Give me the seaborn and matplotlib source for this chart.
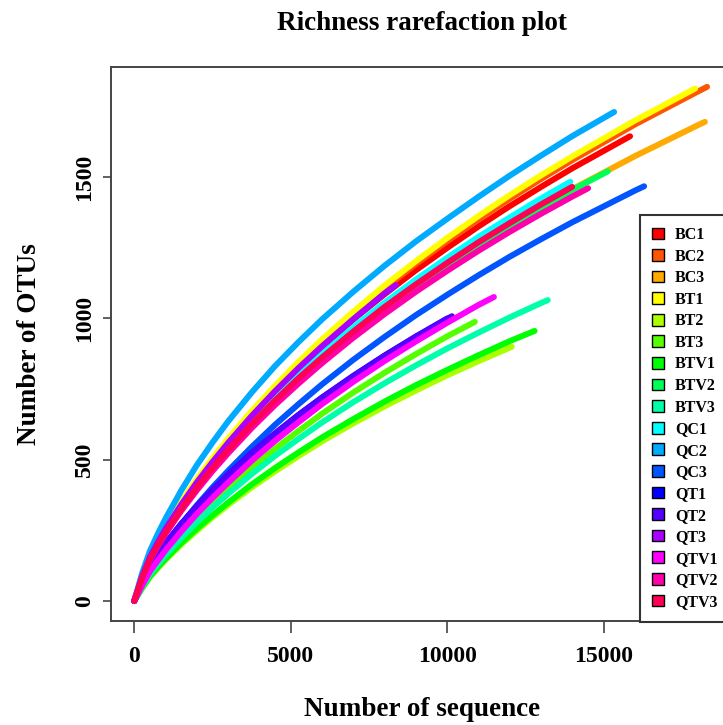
import matplotlib
matplotlib.use("Agg")
import matplotlib.pyplot as plt
import seaborn as sns
import pandas as pd
from matplotlib.patches import Patch

sns.set_style("white")
plt.rcParams["font.family"] = ["Liberation Serif", "DejaVu Serif"]
plt.rcParams["font.weight"] = "bold"
plt.rcParams["text.color"] = "black"
plt.rcParams["axes.labelcolor"] = "black"
plt.rcParams["xtick.color"] = "black"
plt.rcParams["ytick.color"] = "black"

# ---------------- data ----------------
samples = ["BC1", "BC2", "BC3", "BT1", "BT2", "BT3", "BTV1", "BTV2", "BTV3",
           "QC1", "QC2", "QC3", "QT1", "QT2", "QT3", "QTV1", "QTV2", "QTV3"]
colors = ["#FF0000", "#FF5500", "#FFAA00", "#FFFF00", "#AAFF00", "#55FF00",
          "#00FF00", "#00FF55", "#00FFAA", "#00FFFF", "#00AAFF", "#0055FF",
          "#0000FF", "#5500FF", "#AA00FF", "#FF00FF", "#FF00AA", "#FF0055"]

# sampling depths at which the curves were read
grid = [0, 250, 500, 750, 1000, 1500, 2000, 2500, 3000, 3750, 4500, 5250,
        6000, 7000, 8000, 9000, 10000, 11000, 12000, 13000, 14000, 16000, 18000]
# final sequencing depth of each sample
ends_x = [15840, 18300, 18230, 17920, 12060, 10880, 12790, 15130, 13210,
          13930, 15330, 16290, 10000, 10150, 8360, 11490, 14500, 13990]

BC1 = [0, 86, 155, 207, 254, 341, 419, 492, 559, 654, 742, 824, 900, 997, 1086,
       1171, 1250, 1326, 1398, 1466, 1532, 1645]
BC2 = [0, 87, 158, 211, 259, 347, 427, 501, 570, 667, 756, 839, 918, 1016, 1107,
       1193, 1274, 1351, 1424, 1494, 1561, 1687, 1803, 1820]
BC3 = [0, 81, 147, 197, 242, 324, 399, 468, 532, 622, 706, 784, 857, 949, 1034,
       1114, 1190, 1262, 1330, 1395, 1458, 1575, 1684, 1696]
BT1 = [0, 87, 159, 213, 262, 350, 431, 505, 575, 672, 762, 847, 926, 1024, 1117,
       1203, 1285, 1363, 1437, 1507, 1574, 1701, 1814]
BT2 = [0, 45, 85, 116, 146, 200, 249, 296, 340, 402, 459, 513, 565, 629, 689,
       745, 799, 849, 897, 900]
BT3 = [0, 52, 99, 136, 171, 234, 293, 347, 399, 471, 539, 602, 663, 738, 808,
       874, 937, 988]
BTV1 = [0, 46, 87, 119, 149, 205, 256, 303, 348, 412, 471, 526, 579, 644, 706,
        764, 818, 870, 920, 956]
BTV2 = [0, 81, 147, 196, 242, 324, 398, 467, 531, 621, 704, 782, 855, 947, 1032,
        1112, 1188, 1259, 1328, 1393, 1455, 1521]
BTV3 = [0, 50, 95, 130, 163, 223, 279, 331, 380, 449, 514, 574, 632, 704, 771,
        834, 894, 950, 1004, 1055, 1065]
QC1 = [0, 83, 150, 201, 247, 331, 408, 478, 544, 636, 721, 800, 875, 969, 1056,
       1138, 1215, 1289, 1358, 1425, 1484]
QC2 = [0, 98, 177, 237, 292, 391, 481, 561, 636, 738, 832, 917, 997, 1095, 1187,
       1273, 1353, 1431, 1506, 1577, 1646, 1731]
QC3 = [0, 60, 115, 158, 198, 271, 339, 402, 461, 545, 624, 697, 767, 854, 935,
       1012, 1084, 1153, 1219, 1281, 1341, 1453, 1468]
QT1 = [0, 68, 124, 165, 204, 273, 335, 393, 447, 523, 593, 659, 720, 797, 869,
       936, 1000]
QT2 = [0, 68, 124, 165, 203, 272, 335, 393, 447, 523, 593, 658, 720, 796, 868,
       936, 999, 1008]
QT3 = [0, 86, 155, 207, 255, 341, 420, 492, 560, 655, 743, 825, 902, 998, 1089,
       1118]
QTV1 = [0, 55, 105, 143, 180, 246, 308, 365, 419, 496, 567, 633, 697, 776, 850,
        919, 985, 1048, 1076]
QTV2 = [0, 80, 145, 193, 238, 319, 392, 460, 523, 612, 694, 770, 842, 932, 1016,
        1095, 1169, 1240, 1307, 1371, 1432, 1461]
QTV3 = [0, 82, 148, 198, 244, 326, 402, 471, 536, 626, 710, 789, 862, 954, 1041,
        1121, 1197, 1270, 1338, 1404, 1466]

otus = [BC1, BC2, BC3, BT1, BT2, BT3, BTV1, BTV2, BTV3,
        QC1, QC2, QC3, QT1, QT2, QT3, QTV1, QTV2, QTV3]

xticks = [0, 5000, 10000, 15000]
yticks = [0, 500, 1000, 1500]

# ---------------- table ----------------
rows = []
for name, xe, ys in zip(samples, ends_x, otus):
    xs = [g for g in grid if g < xe] + [xe]
    for xv, yv in zip(xs, ys):
        rows.append((xv, yv, name))
df = pd.DataFrame(rows, columns=["seq", "otus", "sample"])

# ---------------- plot ----------------
fig = plt.figure(figsize=(7.23, 7.25), dpi=100)
ax = fig.add_axes([0.1535, 0.1434, 0.8603, 0.7641])

sns.lineplot(data=df, x="seq", y="otus", hue="sample", hue_order=samples,
             palette=colors, estimator=None, sort=False, linewidth=4.3,
             legend=False, ax=ax, solid_capstyle="round",
             solid_joinstyle="round")

ax.set_xlim(-744, 19128)
ax.set_ylim(-71, 1890)
ax.set_xticks(xticks)
ax.set_yticks(yticks)
ax.set_xticklabels([str(v) for v in xticks])
ax.set_yticklabels([str(v) for v in yticks], rotation=90, va="center")

for s in ax.spines.values():
    s.set_color("#444444")
    s.set_linewidth(1.4)

ax.tick_params(axis="both", which="major", bottom=True, left=True,
               direction="out", width=1.2, color="#444444", labelcolor="black",
               labelsize=17)
ax.tick_params(axis="x", length=8.5, pad=9.5)
ax.tick_params(axis="y", length=6, pad=5.5)
for lab in ax.get_xticklabels() + ax.get_yticklabels():
    lab.set_fontweight("bold")

ax.set_xlabel("Number of sequence", fontsize=19.5, fontweight="bold", labelpad=21.5)
ax.set_ylabel("Number of OTUs", fontsize=19.5, fontweight="bold", labelpad=23)
ax.set_title("Richness rarefaction plot", fontsize=19.5, fontweight="bold", pad=26.5)

handles = [Patch(facecolor=c, edgecolor="black", linewidth=1.0, label=n)
           for n, c in zip(samples, colors)]
leg = ax.legend(handles=handles, loc="upper left", bbox_to_anchor=(0.8505, 0.7330),
                borderaxespad=0, frameon=True, fancybox=False, framealpha=1,
                edgecolor="#333333", prop={"weight": "bold", "size": 11.5},
                handlelength=0.75, handleheight=0.75, handletextpad=0.7,
                labelspacing=0.35, borderpad=0.75)
leg.get_frame().set_linewidth(1.5)

fig.savefig("out.png", dpi=100, facecolor="white")
